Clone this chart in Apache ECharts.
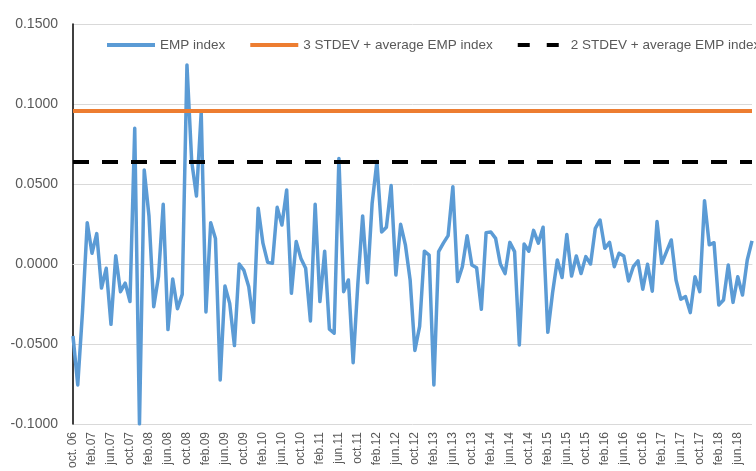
<!DOCTYPE html>
<html>
<head>
<meta charset="utf-8">
<script src="https://cdn.jsdelivr.net/npm/echarts@6/dist/echarts.min.js"></script>
<style>
  html, body { margin: 0; padding: 0; background: #fff; }
  #chart { width: 756px; height: 471px; }
</style>
</head>
<body>
<div id="chart"></div>
<script>
// monthly categories oct.06 .. sep.18
const monthNames = ['jan', 'feb', 'mar', 'apr', 'may', 'jun', 'jul', 'aug', 'sep', 'oct', 'nov', 'dec']
const categories = []
for (let y = 6; y <= 18; y++) {
  for (let m = 0; m < 12; m++) {
    if (y === 6 && m < 9) continue
    if (y === 18 && m > 8) continue
    const yy = (y < 10 ? '0' : '') + y
    categories.push(y === 6 && m === 9 ? 'oct. 06' : monthNames[m] + '.' + yy)
  }
}

const empIndex = [
  -0.045, -0.0756, -0.03, 0.0258, 0.0067, 0.019, -0.015, -0.0027, -0.0377, 0.0052, -0.0173, -0.012,
  -0.0235, 0.0848, -0.1, 0.0588, 0.03, -0.0267, -0.008, 0.0373, -0.041, -0.0094, -0.028, -0.019,
  0.1244, 0.064, 0.0425, 0.095, -0.03, 0.0258, 0.016, -0.0725, -0.0138, -0.0246, -0.051, 0.0,
  -0.004, -0.014, -0.0365, 0.0348, 0.013, 0.001, 0.0004, 0.0354, 0.0244, 0.0463, -0.0183, 0.014,
  0.0035, -0.0027, -0.0356, 0.0373, -0.0235, 0.008, -0.0408, -0.0433, 0.066, -0.0173, -0.01, -0.0617,
  -0.012, 0.03, -0.0117, 0.038, 0.064, 0.02, 0.023, 0.049, -0.0069, 0.0248, 0.012, -0.01,
  -0.054, -0.039, 0.008, 0.0056, -0.0756, 0.0077, 0.013, 0.0177, 0.0483, -0.011, -0.0017, 0.0177,
  -0.0006, -0.0023, -0.0283, 0.0196, 0.02, 0.016, 0.0, -0.006, 0.0135, 0.0077, -0.0506, 0.0125,
  0.008, 0.021, 0.013, 0.023, -0.0427, -0.018, 0.0025, -0.0085, 0.0185, -0.0075, 0.005, -0.006,
  0.0046, 0.0, 0.0223, 0.0275, 0.0098, 0.0135, -0.0017, 0.0067, 0.005, -0.0106, -0.0017, 0.0019,
  -0.0158, -0.0002, -0.017, 0.0265, 0.0004, 0.0077, 0.015, -0.01, -0.022, -0.0204, -0.0304, -0.008,
  -0.0173, 0.0396, 0.012, 0.0133, -0.0256, -0.0225, -0.0006, -0.024, -0.008, -0.0194, 0.0025, 0.0144
]

const stdev3Level = 0.0959
const stdev2Level = 0.0642

const yTicks = { min: -0.1, max: 0.15, step: 0.05 }

const font = 'Liberation Sans, Arial, sans-serif'
const chart = echarts.init(document.getElementById('chart'))

const option = {
  animation: false,
  grid: { left: 73, right: 4, top: 24, bottom: 47 },
  legend: {
    left: 100,
    top: 33,
    width: 900,
    itemWidth: 48,
    itemHeight: 14,
    itemGap: 23,
    itemStyle: { opacity: 0 },
    lineStyle: { width: 4 },
    textStyle: { fontSize: 13.5, color: '#595959', fontFamily: font },
    data: ['EMP index', '3 STDEV + average EMP index', '2 STDEV + average EMP index']
  },
  xAxis: {
    type: 'category',
    boundaryGap: false,
    data: categories,
    axisLine: { lineStyle: { color: '#d9d9d9', width: 1 } },
    axisTick: { show: false },
    axisLabel: {
      rotate: 90,
      interval: 3,
      margin: 8,
      fontSize: 12,
      color: '#595959',
      fontFamily: font
    }
  },
  yAxis: {
    type: 'value',
    min: yTicks.min,
    max: yTicks.max,
    interval: yTicks.step,
    axisLine: { show: true, lineStyle: { color: '#000', width: 1.5 } },
    axisTick: { show: false },
    splitLine: { lineStyle: { color: '#d9d9d9', width: 1 } },
    axisLabel: {
      margin: 15,
      fontSize: 14,
      color: '#595959',
      fontFamily: font,
      formatter: (v) => v.toFixed(4)
    }
  },
  series: [
    {
      name: 'EMP index',
      type: 'line',
      z: 3,
      data: empIndex,
      symbol: 'none',
      color: '#5B9BD5',
      lineStyle: { color: '#5B9BD5', width: 3.5, join: 'round' }
    },
    {
      name: '3 STDEV + average EMP index',
      type: 'line',
      z: 2,
      data: [],
      symbol: 'none',
      color: '#ED7D31',
      lineStyle: { color: '#ED7D31', width: 4 },
      markLine: {
        silent: true,
        precision: 4,
        symbol: ['none', 'none'],
        label: { show: false },
        lineStyle: { color: '#ED7D31', width: 4, type: 'solid' },
        data: [{ yAxis: stdev3Level }]
      }
    },
    {
      name: '2 STDEV + average EMP index',
      type: 'line',
      z: 2,
      data: [],
      symbol: 'none',
      color: '#000',
      lineStyle: { color: '#000', width: 4, type: [12, 17] },
      markLine: {
        silent: true,
        precision: 4,
        symbol: ['none', 'none'],
        label: { show: false },
        lineStyle: { color: '#000', width: 4, type: [16, 13] },
        data: [{ yAxis: stdev2Level }]
      }
    }
  ]
}

chart.setOption(option)
</script>
</body>
</html>
